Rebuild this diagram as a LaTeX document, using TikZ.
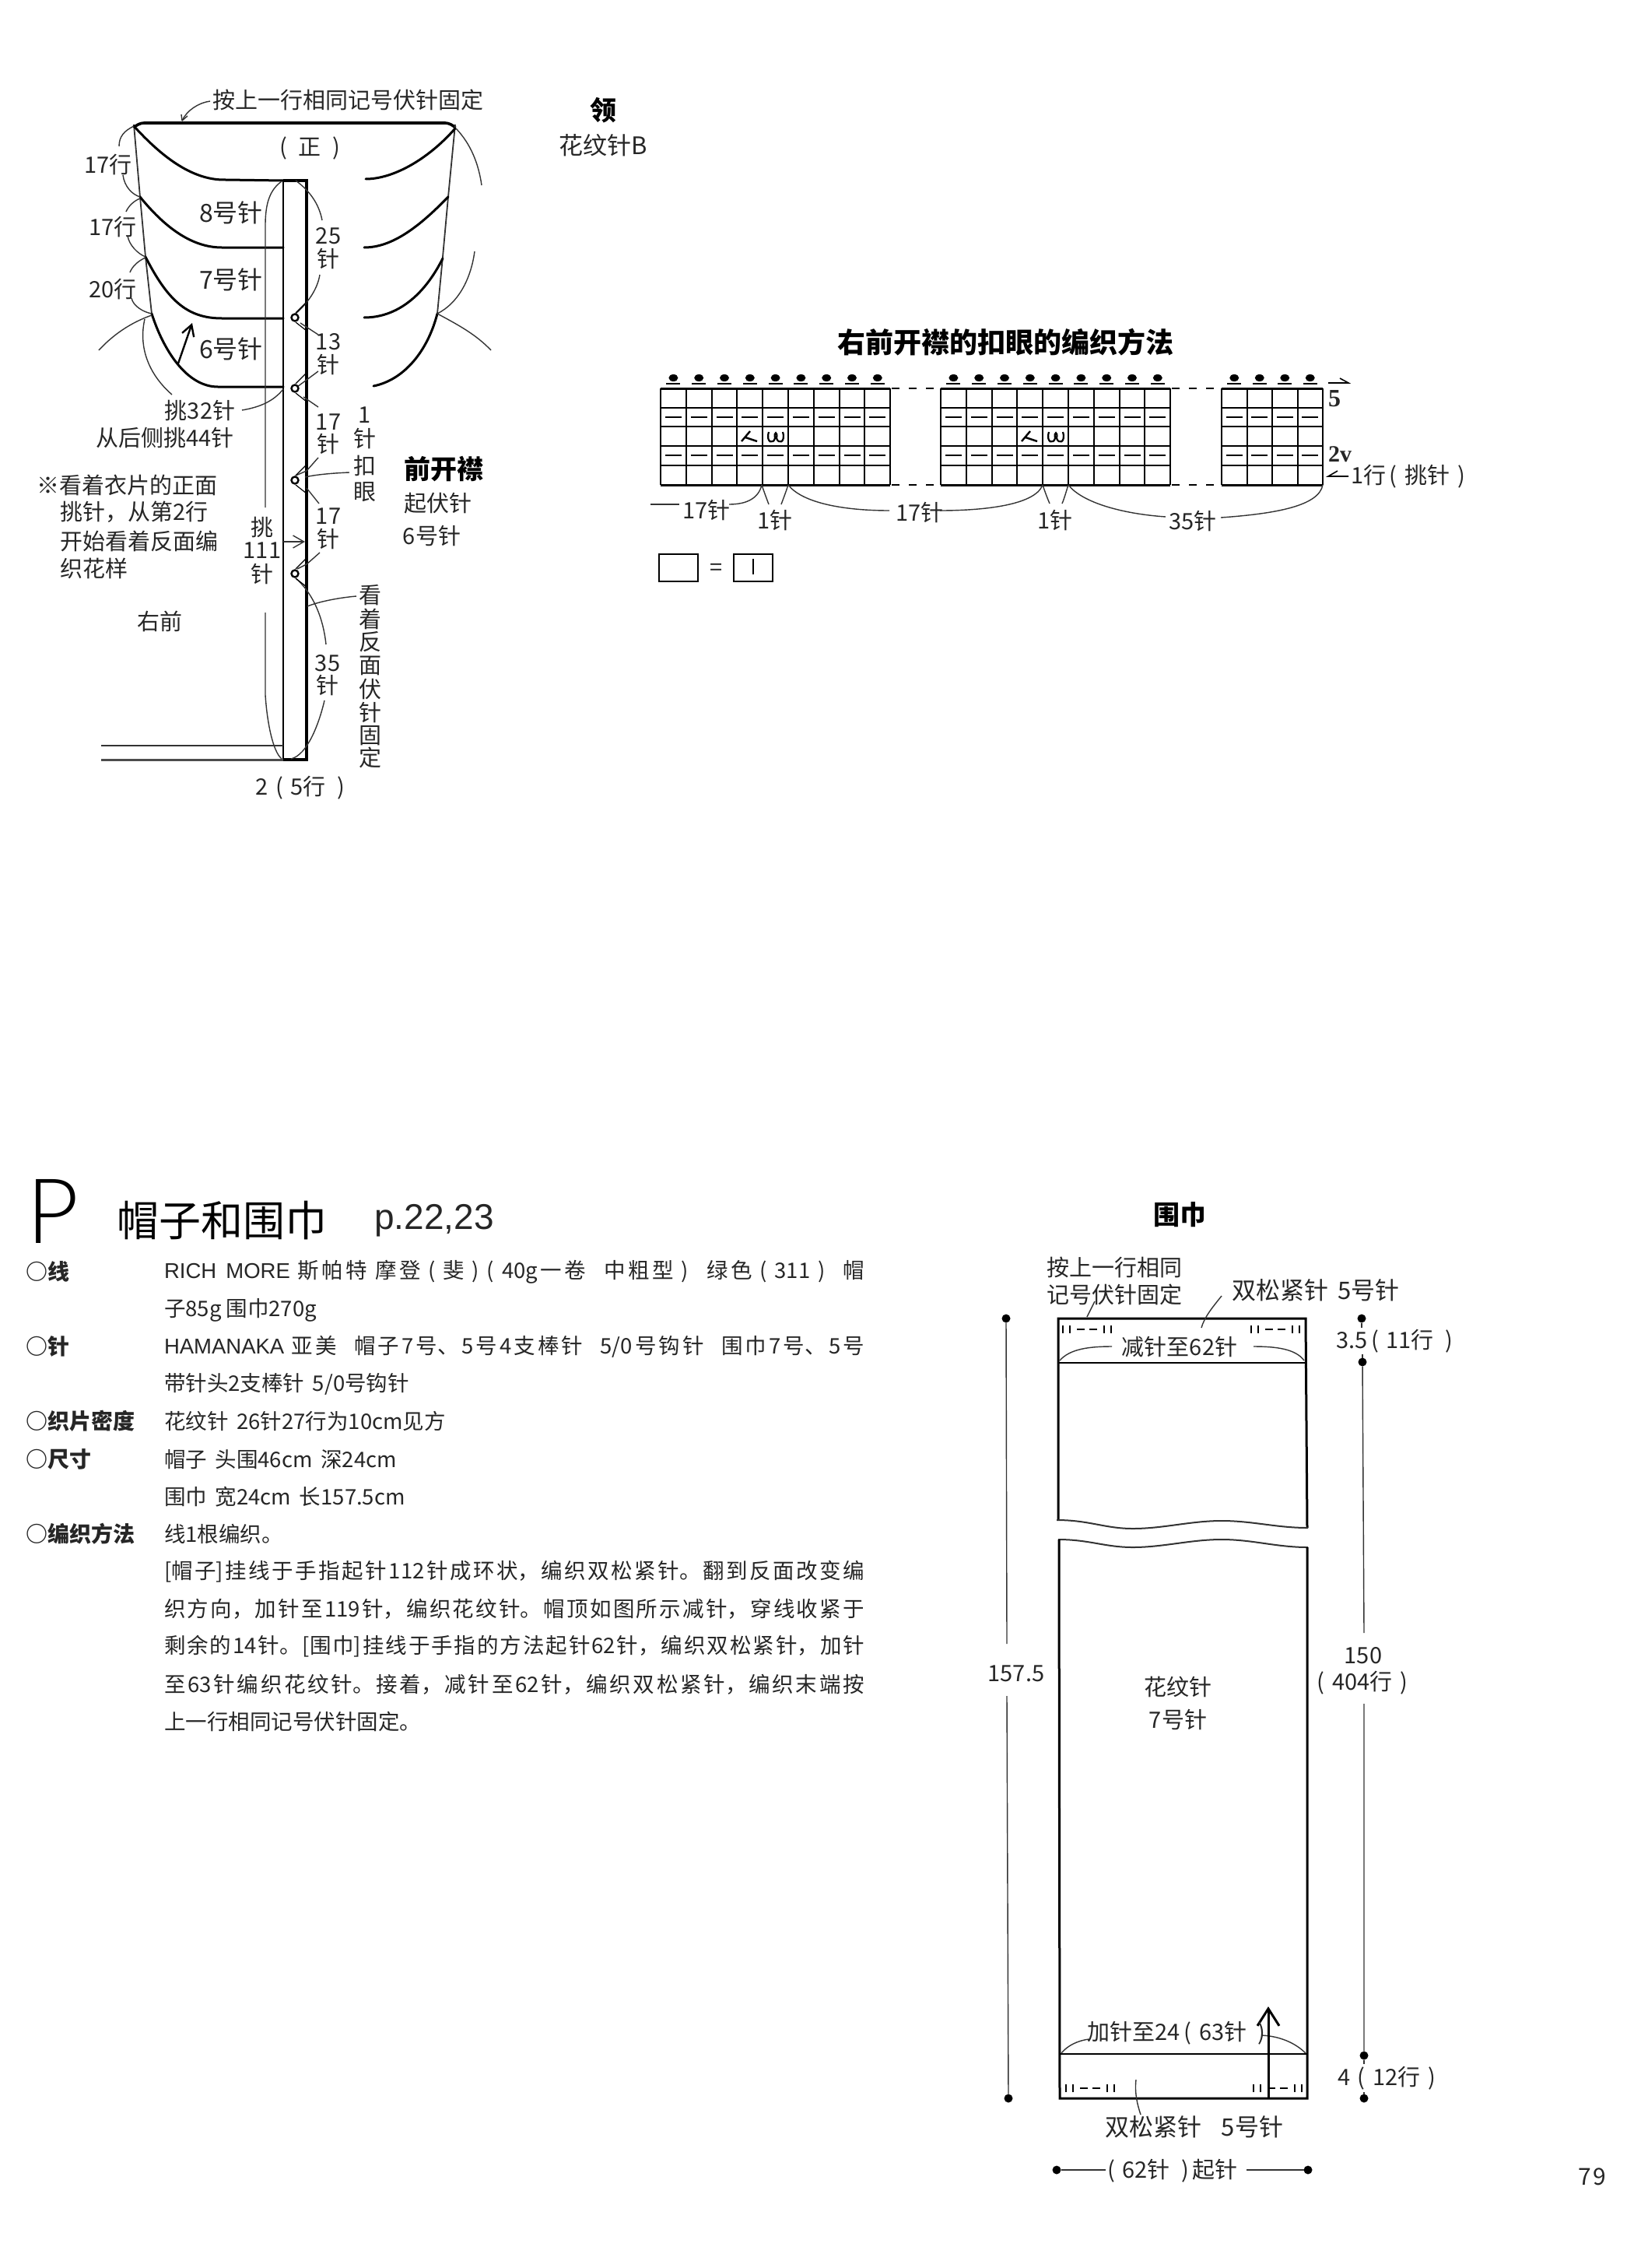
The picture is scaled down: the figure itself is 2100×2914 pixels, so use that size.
\documentclass[tikz,border=0pt]{standalone}
\usepackage{fontspec}
\usetikzlibrary{arrows.meta}
\setmainfont{Noto Sans CJK SC}
\newfontfamily\latinf{Liberation Sans}
\newfontfamily\pfont{Lato Light}
\newfontfamily\serifb{Liberation Serif}
\XeTeXlinebreaklocale "zh"
\XeTeXlinebreakskip=0pt plus 3pt
\newcommand{\fs}[1]{\fontsize{#1}{#1}\selectfont}
\newcommand{\justline}[1]{\parbox{900pt}{\parfillskip=0pt\relax #1}}
\newcommand{\gap}{\hspace{16pt plus 6pt}}
\tikzset{
  every node/.style={inner sep=0pt,outer sep=0pt,font=\fs{29},text=black!85},
  widel/.style={font=\fs{32}},
  thinl/.style={line width=1.4pt,black!80},
  medl/.style={line width=2.4pt,black},
  thickl/.style={line width=3.6pt,black},
  curvel/.style={line width=3pt,black,line cap=round},
  body/.style={anchor=west,font=\fs{27.5}},
  head/.style={anchor=west,font=\fs{28}\bfseries},
  bold/.style={font=\fs{34}\bfseries,text=black},
  dotl/.style={circle,fill=black,minimum size=11pt},
  openarrow/.style={-{Straight Barb[length=14pt,width=16pt]}}
}
\newcommand{\chartgrid}[4]{% x0, columns, col width, name
  \pgfmathsetmacro{\xe}{#1+#2*#3}
  \foreach \yy in {524,548,573,598}{\draw[line width=2pt] (#1,\yy)--(\xe,\yy);}
  \foreach \ii in {1,...,#2}{
    \pgfmathsetmacro{\xi}{#1+\ii*#3-#3}
    \pgfmathsetmacro{\xc}{\xi+#3/2}
    \draw[line width=2pt] (\xi,499)--(\xi,623);
    \draw[line width=2.4pt] (\xc-10.5,536)--(\xc+10.5,536);
    \draw[line width=2.4pt] (\xc-10.5,585)--(\xc+10.5,585);
    \fill (\xc,485.5) ellipse (6pt and 4.5pt);
    \draw[line width=2pt] (\xc-9,493)--(\xc+9,493);
  }
  \draw[line width=2pt] (\xe,499)--(\xe,623);
  \draw[line width=3pt] (#1,499)--(\xe,499);
  \draw[line width=3pt] (#1,623)--(\xe,623);
}
\newcommand{\knot}[2]{% k2tog and loop symbols, x-centres
  \draw[line width=2.4pt] (#1-11,567)--(#1,554) (#1-6,562)--(#1+9,567);
  \draw[line width=2.2pt] (#2-9,555) .. controls (#2-13,569) and (#2-3,571) .. (#2-1,563)
     .. controls (#2-3,554) and (#2+3,554) .. (#2+1,563)
     .. controls (#2+3,571) and (#2+13,569) .. (#2+9,555);
}
\newcommand{\ribs}[2]{% x, y centre
  \draw[line width=2pt] (#1,#2-5)--(#1,#2+5) (#1+9,#2-5)--(#1+9,#2+5)
     (#1+18,#2)--(#1+28,#2) (#1+34,#2)--(#1+44,#2)
     (#1+53,#2-5)--(#1+53,#2+5) (#1+62,#2-5)--(#1+62,#2+5);
}
\newcommand{\hole}[2]{% circle centre on band, triangle to right edge
  \draw[line width=2.4pt] (#1,#2) circle (4.5pt);
  \draw[line width=1.2pt] (#1+1,#2-6)--(394,#2-20) (#1+1,#2+6)--(394,#2+17);
}
\begin{document}
\begin{tikzpicture}[x=1pt,y=-1pt]
\useasboundingbox (0,0) rectangle (2100,2914);
\fill[white] (0,0) rectangle (2100,2914);

%%% collar
\draw[thickl,rounded corners=8pt] (172,164)--(177,158)--(580,158)--(585,164);
\draw[thinl,line width=1.8pt] (172,160)--(180,253)--(187,330)--(195,403);
\draw[thinl,line width=1.8pt] (585,160)--(576,253)--(569,330)--(562,403);
\draw[curvel] (172,162) .. controls (205,198) and (245,232) .. (290,231)--(364,232);
\draw[curvel] (585,165) .. controls (550,205) and (505,230) .. (470,230);
\draw[curvel] (180,253) .. controls (210,290) and (245,318) .. (285,318)--(364,318);
\draw[curvel] (576,253) .. controls (540,290) and (505,318) .. (468,318);
\draw[curvel] (187,330) .. controls (215,385) and (240,409) .. (285,409)--(364,409);
\draw[curvel] (569,332) .. controls (545,380) and (510,408) .. (468,408);
\draw[curvel] (195,403) .. controls (210,450) and (240,497) .. (280,497)--(364,497);
\draw[curvel] (562,403) .. controls (550,450) and (520,488) .. (480,496);
% band
\draw[medl] (364,232)--(364,976);
\draw[thickl] (364,232)--(394,232)--(394,976)--(364,976);
\draw[line width=3pt,black!70] (130,976)--(364,976);
\draw[medl,black!80] (130,958)--(364,958);
% side lines
\draw[thinl] (127,450) .. controls (150,425) and (175,412) .. (195,405);
\draw[thinl] (562,403) .. controls (590,418) and (612,430) .. (631,450);
\draw[medl,openarrow] (229,467)--(247,415);
% leaders
\draw[thinl] (172,162) .. controls (160,168) and (153,175) .. (153,188);
\draw[thinl] (158,225) .. controls (160,240) and (170,250) .. (180,253);
\draw[thinl] (180,255) .. controls (172,258) and (165,265) .. (162,272);
\draw[thinl] (164,303) .. controls (166,315) and (177,326) .. (187,330);
\draw[thinl] (187,331) .. controls (178,335) and (170,342) .. (167,350);
\draw[thinl] (169,383) .. controls (171,393) and (184,401) .. (195,403);
\draw[thinl] (186,410) .. controls (178,445) and (190,480) .. (221,507);
\draw[thinl] (311,527) .. controls (335,523) and (352,515) .. (364,500);
\draw[thinl] (586,165) .. controls (605,185) and (615,210) .. (619,238);
\draw[thinl] (610,323) .. controls (605,360) and (588,390) .. (562,403);
\draw[thinl] (380,232) .. controls (398,245) and (410,262) .. (414,283);
\draw[thinl] (411,353) .. controls (408,372) and (395,390) .. (380,403);
\draw[thinl] (386,415) -- (409,430);
\draw[thinl] (409,477) -- (382,497);
\draw[thinl] (390,510) -- (409,523);
\draw[thinl] (409,588) -- (394,605) -- (380,611);
\draw[thinl] (394,627) -- (410,647);
\draw[thinl] (449,607) .. controls (425,608) and (405,610) .. (392,613);
\draw[thinl] (411,710) -- (394,725) -- (382,731);
\draw[thinl] (380,743) .. controls (400,760) and (415,790) .. (419,828);
\draw[thinl] (458,766) .. controls (435,768) and (410,773) .. (395,779);
\draw[thinl] (417,900) .. controls (410,930) and (395,970) .. (374,975);
\draw[thinl] (362,233) .. controls (345,245) and (341,265) .. (341,290)--(341,652);
\draw[thinl] (341,787)--(341,893) .. controls (343,925) and (350,965) .. (362,975);
\draw[thinl,openarrow] (364,696)--(392,696);
\draw[thinl] (270,130) .. controls (255,132) and (240,142) .. (234,155);
\draw[thinl] (234,155)--(233,147) (234,155)--(241,149);
\hole{379}{408} \hole{379}{499} \hole{379}{617} \hole{379}{737}

%%% collar texts
\node (tclose) at (447.5,128) {按上一行相同记号伏针固定};
\node (tfront) at (398,190) {(\,\,\,正\,\,\,)};
\node (ta) at (139,212) {17行};
\node (tb) at (145,292) {17行};
\node (tc) at (145,372) {20行};
\node[widel] (td) at (297,273) {8号针};
\node[widel] (te) at (297,359) {7号针};
\node[widel] (tf) at (297,448) {6号针};
\node (tg) at (422,303) {25};
\node (th) at (422,332) {针};
\node (ti) at (422,439) {13};
\node (tj) at (422,468) {针};
\node (tk) at (422,542) {17};
\node (tl) at (422,570) {针};
\node (tm) at (469,533) {1};
\node (tn) at (469,563) {针};
\node (to) at (469,598) {扣};
\node (tp) at (469,632) {眼};
\node (tq) at (422,663) {17};
\node (tr) at (422,692) {针};
\node (ts) at (421,852) {35};
\node (tt) at (421,880) {针};
\node (tu) at (337,678) {挑};
\node (tv) at (337,707) {111};
\node (tw) at (337,737) {针};
\node (tx) at (257,528) {挑32针};
\node (ty) at (212,563) {从后侧挑44针};
\node[anchor=west] (z1) at (47,623) {※看着衣片的正面};
\node[anchor=west] (z2) at (77,658) {挑针，从第2行};
\node[anchor=west] (z3) at (77,695) {开始看着反面编};
\node[anchor=west] (z4) at (77,730) {织花样};
\node (z5) at (205,798) {右前};
\node (z6) at (476,765) {看};
\node (z7) at (476,795) {着};
\node (z8) at (476,825) {反};
\node (z9) at (476,855) {面};
\node (z10) at (476,885) {伏};
\node (z11) at (476,915) {针};
\node (z12) at (476,945) {固};
\node (z13) at (476,973) {定};
\node (z14) at (386,1012) {2\,\,(\,\,5行\,\,\,)};
\node[bold] (z15) at (570,603) {前开襟};
\node (z16) at (563,647) {起伏针};
\node (z17) at (555,688) {6号针};
\node[bold] (z18) at (775,142) {领};
\node[font=\fs{31}] (z19) at (775,187) {花纹针B};

%%% chart
\node[font=\fs{36}\bfseries,text=black] (ct) at (1292,440) {右前开襟的扣眼的编织方法};
\chartgrid{849}{9}{32.8}{c1}
\chartgrid{1209}{9}{32.8}{c2}
\chartgrid{1570}{4}{32.5}{c3}
\knot{964}{997}
\knot{1324}{1357}
\draw[line width=2pt,dash pattern=on 10pt off 12pt] (1146,499)--(1209,499) (1146,623)--(1209,623);
\draw[line width=2pt,dash pattern=on 10pt off 12pt] (1506,499)--(1570,499) (1506,623)--(1570,623);
\draw[thinl] (836,648)--(873,648);
\draw[thinl] (937,648) .. controls (960,648) and (975,640) .. (979,623);
\draw[thinl] (979,623) .. controls (982,632) and (985,640) .. (988,648);
\draw[thinl] (1013,623) .. controls (1010,632) and (1007,640) .. (1004,648);
\draw[thinl] (1013,623) .. controls (1030,645) and (1080,656) .. (1143,656);
\draw[thinl] (1208,656) .. controls (1260,656) and (1330,650) .. (1340,623);
\draw[thinl] (1340,623) .. controls (1343,632) and (1346,640) .. (1349,647);
\draw[thinl] (1373,623) .. controls (1370,632) and (1368,640) .. (1365,647);
\draw[thinl] (1373,623) .. controls (1390,645) and (1440,660) .. (1498,664);
\draw[thinl] (1569,665) .. controls (1640,660) and (1695,650) .. (1700,623);
\node (l1) at (908,655) {17针};
\node (l2) at (996,668) {1针};
\node (l3) at (1182,658) {17针};
\node (l4) at (1356,668) {1针};
\node (l5) at (1533,669) {35针};
\node[font=\fs{32}\serifb\bfseries] (l6) at (1715,512) {5};
\node[font=\fs{30}\serifb\bfseries] (l7) at (1722,584) {2v};
\node[anchor=west] (l8) at (1736,612) {1行\,(\,\,挑针\,\,)};
\draw[line width=1.6pt] (1707,492)--(1733,492)--(1722,486);
\draw[line width=1.6pt] (1733,612)--(1707,612)--(1719,605);
\node[draw,line width=1.8pt,minimum width=50pt,minimum height=35pt] (b1) at (872,729.5) {};
\node (eq) at (921,732) {=};
\node[draw,line width=1.8pt,minimum width=50pt,minimum height=35pt] (b2) at (968,729.5) {};
\draw[line width=1.8pt] (968,718)--(968,738);

%%% section P
\node[font=\fs{116}\pfont,anchor=center,text=black] (pp) at (68,1556) {P};
\node[font=\fs{54},text=black] (ptitle) at (285.5,1568) {帽子和围巾};
\node[font=\fs{46}\latinf] (ppage) at (558,1568) {p.22,23};
\node[head] (h1) at (33,1634) {○线};
\node[head] (h2) at (33,1730) {○针};
\node[head] (h3) at (33,1826) {○织片密度};
\node[head] (h4) at (33,1875) {○尺寸};
\node[head] (h5) at (33,1971) {○编织方法};
\node[body] (b01) at (211,1634) {\justline{{\latinf RICH MORE} 斯帕特 摩登 ( 斐 ) ( 40g一卷\gap 中粗型 )\gap 绿色 ( 311 )\gap 帽}};
\node[body] (b02) at (211,1683) {子85g 围巾270g};
\node[body] (b03) at (211,1730) {\justline{{\latinf HAMANAKA} 亚美\gap 帽子7号、5号4支棒针\gap 5/0号钩针\gap 围巾7号、5号}};
\node[body] (b04) at (211,1778) {带针头2支棒针\, 5/0号钩针};
\node[body] (b05) at (211,1826) {花纹针\, 26针27行为10cm见方};
\node[body] (b06) at (211,1875) {帽子\, 头围46cm\, 深24cm};
\node[body] (b07) at (211,1923) {围巾\, 宽24cm\, 长157.5cm};
\node[body] (b08) at (211,1971) {线1根编织。};
\node[body] (b09) at (211,2019) {\justline{[帽子]挂线于手指起针112针成环状，编织双松紧针。翻到反面改变编}};
\node[body] (b10) at (211,2067) {\justline{织方向，加针至119针，编织花纹针。帽顶如图所示减针，穿线收紧于}};
\node[body] (b11) at (211,2115) {\justline{剩余的14针。[围巾]挂线于手指的方法起针62针，编织双松紧针，加针}};
\node[body] (b12) at (211,2164) {\justline{至63针编织花纹针。接着，减针至62针，编织双松紧针，编织末端按}};
\node[body] (b13) at (211,2212) {上一行相同记号伏针固定。};

%%% scarf
\node[bold] (s0) at (1516,1561) {围巾};
\draw[medl,line width=3pt] (1360,1953)--(1360,1694)--(1678,1694)--(1680,1963);
\draw[medl,line width=2.6pt] (1360,1751)--(1678,1751);
\draw[thinl,line width=2pt] (1358,1953) .. controls (1400,1953) and (1420,1964) .. (1456,1964) .. controls (1495,1964) and (1530,1954) .. (1570,1954) .. controls (1610,1954) and (1640,1963) .. (1681,1963);
\draw[thinl,line width=2pt] (1360,1978) .. controls (1400,1978) and (1420,1988) .. (1456,1988) .. controls (1495,1988) and (1530,1978) .. (1570,1978) .. controls (1610,1978) and (1640,1988) .. (1681,1988);
\draw[medl,line width=3pt] (1361,1978)--(1362,2696)--(1680,2696)--(1680,1988);
\draw[medl,line width=2.6pt] (1362,2639)--(1680,2639);
\ribs{1366}{1708}\ribs{1608}{1708}\ribs{1370}{2683}\ribs{1611}{2683}
\draw[thinl] (1407,1672) .. controls (1403,1680) and (1400,1686) .. (1397,1692);
\draw[thinl] (1570,1665) .. controls (1558,1680) and (1548,1692) .. (1544,1706);
\draw[thinl] (1362,1748) .. controls (1375,1733) and (1400,1730) .. (1429,1730);
\draw[thinl] (1611,1730) .. controls (1640,1730) and (1665,1733) .. (1676,1748);
\draw[thinl] (1364,2638) .. controls (1372,2628) and (1385,2622) .. (1399,2620);
\draw[thinl] (1621,2615) .. controls (1645,2616) and (1665,2625) .. (1678,2638);
\draw[thinl] (1460,2672) .. controls (1458,2690) and (1462,2705) .. (1466,2717);
\draw[line width=3pt,-{Straight Barb[length=22pt,width=28pt]}] (1630,2696)--(1630,2578);
% dimensions
\node[dotl] (d1) at (1293,1694) {};
\node[dotl] (d2) at (1296,2696) {};
\coordinate (d1a) at (1294,2112);
\coordinate (d1b) at (1294,2179);
\draw[thinl] (d1)--(d1a) (d1b)--(d2);
\node[dotl] (d3) at (1750,1694) {};
\node[dotl] (d4) at (1751,1750) {};
\draw[thinl] (d3)--(1750,1706) (1751,1740)--(d4);
\node[dotl] (d5) at (1753,2641) {};
\node[dotl] (d6) at (1753,2696) {};
\draw[thinl] (d4)--(1753,2098) (1753,2189)--(d5);
\draw[thinl] (d5)--(1753,2652) (1753,2688)--(d6);
\node[dotl] (d7) at (1358,2788) {};
\node[dotl] (d8) at (1681,2788) {};
\draw[thinl,line width=1.8pt] (d7)--(1421,2788) (1602,2788)--(d8);
\node (s1) at (1432,1628) {按上一行相同};
\node (s2) at (1432,1663) {记号伏针固定};
\node[anchor=west,font=\fs{31}] (s3) at (1583,1658) {双松紧针\hspace{12pt}5号针};
\node (s4) at (1516,1731) {减针至62针};
\node[anchor=west] (s5) at (1717,1723) {3.5\,(\,\,11行\,\,\,)};
\node (s6) at (1306,2150) {157.5};
\node (s7) at (1514,2167) {花纹针};
\node (s8) at (1514,2209) {7号针};
\node (s9) at (1752,2127) {150};
\node (s10) at (1751,2162) {(\,\,404行\,\,)};
\node (s11) at (1512,2612) {加针至24\,(\,\,63针\,\,\,)};
\node[anchor=west] (s12) at (1719,2670) {4\,\,(\,\,12行\,\,)};
\node[anchor=west,font=\fs{31}] (s13) at (1420,2733) {双松紧针\hspace{26pt}5号针};
\node (s14) at (1507,2789) {(\,\,62针\,\,\,)\,起针};
\node[font=\fs{30}] (s15) at (2046,2797) {7\hspace{2pt}9};
\end{tikzpicture}
\end{document}
